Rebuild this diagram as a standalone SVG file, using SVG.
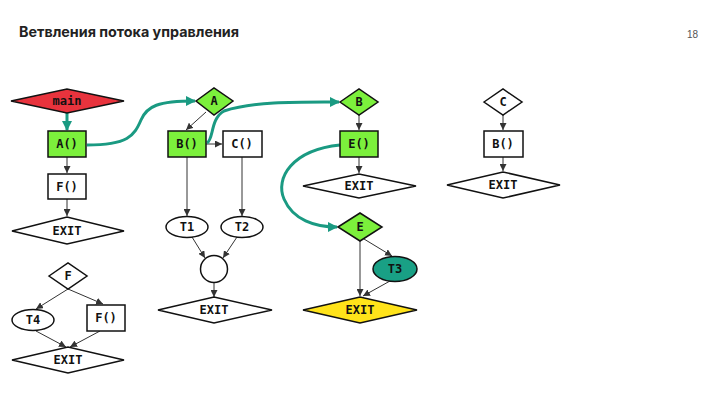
<svg xmlns="http://www.w3.org/2000/svg" width="720" height="405" viewBox="0 0 720 405">
<defs>
<style>
.n{stroke:#111;stroke-width:1.5}
.w{fill:#fff}
.g{fill:#7cf03c}
.t{font-family:"DejaVu Sans Mono","Liberation Mono",monospace;font-weight:700;font-size:12px;text-anchor:middle;dominant-baseline:central;fill:#111}
.e{stroke:#333;stroke-width:1;fill:none;marker-end:url(#ah)}
.c{stroke:#1a9a82;stroke-width:3;fill:none;marker-end:url(#th)}
</style>
<marker id="ah" viewBox="0 0 10 10" refX="10" refY="5" markerWidth="7" markerHeight="7" markerUnits="userSpaceOnUse" orient="auto"><path d="M0,0L10,5L0,10z" fill="#333"/></marker>
<marker id="th" viewBox="0 0 10 10" refX="9" refY="5" markerWidth="10" markerHeight="10" markerUnits="userSpaceOnUse" orient="auto"><path d="M0,0L10,5L0,10z" fill="#1a9a82"/></marker>
</defs>
<rect width="720" height="405" fill="#fff"/>
<text x="19" y="37" font-family="Inter,Roboto,'Noto Sans',sans-serif" font-weight="700" font-size="14" fill="#222" textLength="220" lengthAdjust="spacingAndGlyphs">Ветвления потока управления</text>
<text x="698" y="38" font-family="'Liberation Sans',Arial,sans-serif" font-size="10" fill="#555" text-anchor="end">18</text>

<g id="connectors">
<path class="e" d="M67,157V173"/>
<path class="e" d="M67,199V216"/>
<path class="e" d="M206,112L186,130"/>
<path class="e" d="M206,144H222"/>
<path class="e" d="M187,157V216"/>
<path class="e" d="M242,157V216"/>
<path class="e" d="M192,237L205,258"/>
<path class="e" d="M237,237L223,258"/>
<path class="e" d="M214,283V297"/>
<path class="e" d="M359,115V130"/>
<path class="e" d="M359,157V173"/>
<path class="e" d="M360,241V296"/>
<path class="e" d="M364,239L392,256"/>
<path class="e" d="M390,281L363,296"/>
<path class="e" d="M503,115V130"/>
<path class="e" d="M503,157V171"/>
<path class="e" d="M68,289L36,309"/>
<path class="e" d="M68,289L103,304"/>
<path class="e" d="M36,331L66,347"/>
<path class="e" d="M100,331L70,347"/>
<path class="c" d="M67,113V130"/>
<path class="c" d="M87,145C128,145 134,136 141,120C147,106 158,101 195,101"/>
<path class="c" d="M207,143C214,139 210,119 224,111C256,101 300,102 339,102"/>
<path class="c" d="M340,145C292,150 275,178 284,199C293,220 315,227 337,227"/>
</g>

<g id="main"><polygon class="n" fill="#e8333d" points="11,101 67,89 124,101 67,113"/><text class="t" x="67" y="101">main</text></g>
<g id="A_call"><rect class="n g" x="48" y="131" width="38" height="26"/><text class="t" x="67" y="144">A()</text></g>
<g id="F_call1"><rect class="n w" x="48" y="174" width="38" height="25"/><text class="t" x="67" y="186.5">F()</text></g>
<g id="exit1"><polygon class="n w" points="12,231 67,217 124,231 67,244"/><text class="t" x="67" y="231">EXIT</text></g>

<g id="A"><polygon class="n g" points="196,101 214,88 233,101 214,115"/><text class="t" x="214" y="101">A</text></g>
<g id="B_call"><rect class="n g" x="168" y="131" width="38" height="26"/><text class="t" x="187" y="144">B()</text></g>
<g id="C_call"><rect class="n w" x="223" y="131" width="39" height="26"/><text class="t" x="242" y="144">C()</text></g>
<g id="T1"><ellipse class="n w" cx="187" cy="227" rx="21" ry="10.5"/><text class="t" x="187" y="227">T1</text></g>
<g id="T2"><ellipse class="n w" cx="242" cy="227" rx="21" ry="10.5"/><text class="t" x="242" y="227">T2</text></g>
<g id="join"><circle class="n w" cx="214" cy="269" r="13.5"/></g>
<g id="exit2"><polygon class="n w" points="158,310 214,297 272,310 214,323"/><text class="t" x="214" y="310">EXIT</text></g>

<g id="B"><polygon class="n g" points="340,102 359,89 378,102 359,115"/><text class="t" x="359" y="102">B</text></g>
<g id="E_call"><rect class="n g" x="340" y="131" width="38" height="26"/><text class="t" x="359" y="144">E()</text></g>
<g id="exit3"><polygon class="n w" points="303,186 359,174 416,186 359,198"/><text class="t" x="359" y="186">EXIT</text></g>
<g id="E"><polygon class="n g" points="338,227 360,213 382,227 360,241"/><text class="t" x="360" y="227">E</text></g>
<g id="T3"><ellipse class="n" fill="#19a085" cx="395" cy="269" rx="22" ry="12.5"/><text class="t" x="395" y="269">T3</text></g>
<g id="exit4"><polygon class="n" fill="#ffe31a" points="303,310 360,297 417,310 360,323"/><text class="t" x="360" y="310">EXIT</text></g>

<g id="C"><polygon class="n w" points="484,102 503,89 522,102 503,115"/><text class="t" x="503" y="102">C</text></g>
<g id="B_call2"><rect class="n w" x="484" y="131" width="39" height="26"/><text class="t" x="503" y="144">B()</text></g>
<g id="exit5"><polygon class="n w" points="447,185 503,172 560,185 503,198"/><text class="t" x="503" y="185">EXIT</text></g>

<g id="F"><polygon class="n w" points="49,276 68,263 87,276 68,289"/><text class="t" x="68" y="276">F</text></g>
<g id="T4"><ellipse class="n w" cx="33" cy="320" rx="21" ry="10.5"/><text class="t" x="33" y="320">T4</text></g>
<g id="F_call2"><rect class="n w" x="87" y="305" width="38" height="26" stroke-width="2"/><text class="t" x="106" y="318">F()</text></g>
<g id="exit6"><polygon class="n w" points="12,360 68,347 124,360 68,373"/><text class="t" x="68" y="360">EXIT</text></g>
</svg>
